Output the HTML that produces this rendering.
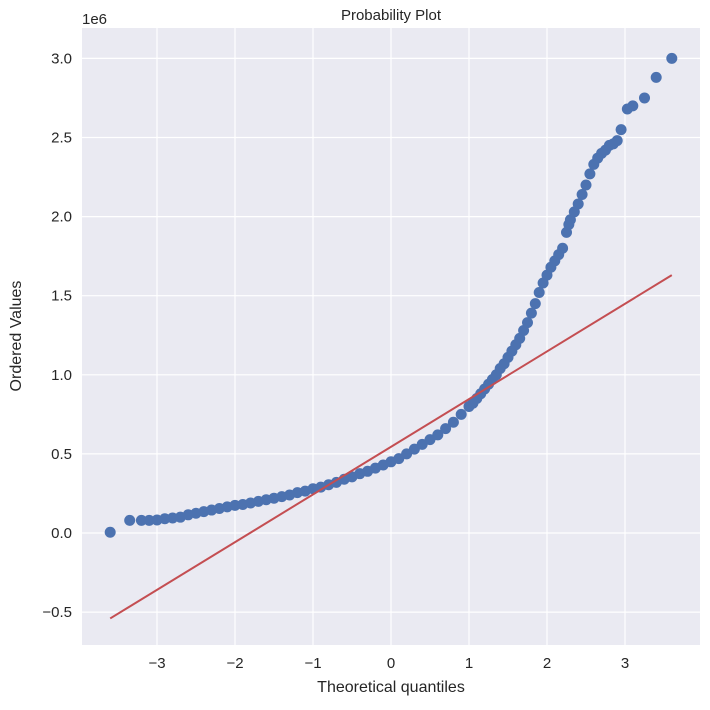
<!DOCTYPE html>
<html><head><meta charset="utf-8"><style>
body{margin:0;background:#fff;}
svg text{font-family:"Liberation Sans",sans-serif;fill:#262626;}
</style></head><body>
<svg id="chart" width="710" height="705" xmlns="http://www.w3.org/2000/svg">
<rect x="82" y="28" width="618" height="617" fill="#eaeaf2"/>
<g id="grid"></g><g id="ticks"></g><g id="series"></g>
<text x="391" y="20" text-anchor="middle" font-size="15">Probability Plot</text>
<text x="391" y="692" text-anchor="middle" font-size="16">Theoretical quantiles</text>
<text transform="translate(21,336) rotate(-90)" text-anchor="middle" font-size="16">Ordered Values</text>
<text x="82" y="24" font-size="15">1e6</text>
</svg>
<script>
const xTicks=[-3,-2,-1,0,1,2,3];
const yTicks=[-0.5,0,0.5,1.0,1.5,2.0,2.5,3.0];
const quantiles=[-3.6,-3.35,-3.2,-3.1,-3.0,-2.9,-2.8,-2.7,-2.6,-2.5,-2.4,-2.3,-2.2,-2.1,-2.0,-1.9,-1.8,-1.7,-1.6,-1.5,-1.4,-1.3,-1.2,-1.1,-1.0,-0.9,-0.8,-0.7,-0.6,-0.5,-0.4,-0.3,-0.2,-0.1,0,0.1,0.2,0.3,0.4,0.5,0.6,0.7,0.8,0.9,1.0,1.05,1.1,1.15,1.2,1.25,1.3,1.35,1.4,1.45,1.5,1.55,1.6,1.65,1.7,1.75,1.8,1.85,1.9,1.95,2.0,2.05,2.1,2.15,2.2,2.25,2.28,2.3,2.35,2.4,2.45,2.5,2.55,2.6,2.65,2.7,2.75,2.8,2.85,2.9,2.95,3.03,3.1,3.25,3.4,3.6];
const values=[0.005,0.08,0.08,0.08,0.082,0.09,0.095,0.10,0.115,0.125,0.135,0.145,0.155,0.165,0.175,0.18,0.19,0.20,0.21,0.22,0.23,0.24,0.255,0.265,0.28,0.29,0.305,0.32,0.34,0.355,0.375,0.39,0.41,0.43,0.45,0.47,0.5,0.53,0.56,0.59,0.62,0.66,0.70,0.75,0.80,0.82,0.85,0.88,0.91,0.94,0.97,1.0,1.04,1.07,1.11,1.15,1.19,1.23,1.28,1.33,1.39,1.45,1.52,1.58,1.63,1.68,1.72,1.76,1.80,1.9,1.95,1.98,2.03,2.08,2.14,2.2,2.27,2.33,2.37,2.40,2.42,2.45,2.46,2.48,2.55,2.68,2.70,2.75,2.88,3.0];
const fitX=[-3.6,3.6];
const fitY=[-0.54,1.63];
const NS="http://www.w3.org/2000/svg";
const xs=v=>391+v*78;
const ys=v=>533-v*158.2;
function mk(tag,attrs,parent){const e=document.createElementNS(NS,tag);for(const k in attrs)e.setAttribute(k,attrs[k]);parent.appendChild(e);return e;}
const grid=document.getElementById('grid'),ticks=document.getElementById('ticks'),ser=document.getElementById('series');
xTicks.forEach(t=>{
 const l=mk('line',{x1:xs(t),x2:xs(t),y1:28,y2:645,stroke:'#fff','stroke-width':1.2},grid);
 
 
 const tx=mk('text',{x:xs(t),y:668,'text-anchor':'middle','font-size':15},ticks);
 tx.textContent=(t<0?'\u2212'+(-t):t);
 
 
});
yTicks.forEach(t=>{
 const l=mk('line',{x1:82,x2:700,y1:ys(t),y2:ys(t),stroke:'#fff','stroke-width':1.2},grid);
 
 
 const tx=mk('text',{x:72,y:ys(t)+5,'text-anchor':'end','font-size':15},ticks);
 tx.textContent=(t<0?'\u2212'+(-t).toFixed(1):t.toFixed(1));
 
 
});
quantiles.forEach((q,i)=>{
 const c=mk('circle',{cx:xs(q),cy:ys(values[i]),r:5.5,fill:'#4c72b0'},ser);
 
 
});
const fl=mk('line',{x1:xs(fitX[0]),y1:ys(fitY[0]),x2:xs(fitX[1]),y2:ys(fitY[1]),stroke:'#c44e52','stroke-width':2},ser);


</script>
</body></html>
